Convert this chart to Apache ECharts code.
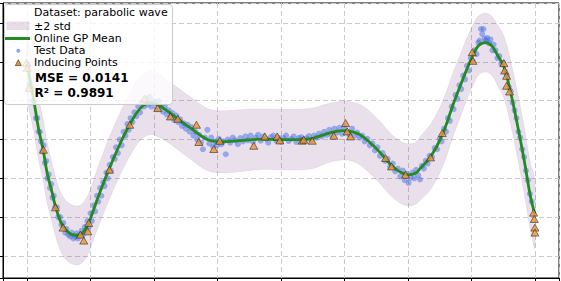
<!DOCTYPE html>
<html>
<head>
<meta charset="utf-8">
<script src="https://cdn.jsdelivr.net/npm/echarts@6/dist/echarts.min.js"></script>
<style>html,body{margin:0;padding:0;background:#fff}#c{width:561px;height:281px}</style>
</head>
<body>
<div id="c"></div>
<script>
// GP mean curve samples
const meanX = [0,0.05,0.104,0.183,0.252,0.315,0.394,0.446,0.525,0.604,0.709,0.813,0.892,0.971,1.103,1.286,1.47,1.628,1.786,1.943,2.054,2.18,2.37,2.57,2.84,3.05,3.36,3.68,4.0,4.3,4.5,4.78,4.98,5.13,5.25,5.41,5.57,5.73,5.88,6.0,6.12,6.2,6.36,6.54,6.72,6.88,7.02,7.11,7.22,7.32,7.41,7.51,7.62,7.72,7.83,7.93,8.0];
const meanY = [2.0,1.5,1.025,0.25,-0.26,-0.86,-1.37,-1.72,-2.11,-2.32,-2.45,-2.47,-2.37,-2.15,-1.55,-0.78,-0.09,0.42,0.81,0.95,0.90,0.77,0.54,0.30,0.0,-0.06,-0.03,0.01,0.0,0.0,0.03,0.18,0.23,0.20,0.12,-0.09,-0.35,-0.65,-0.84,-0.91,-0.87,-0.73,-0.44,0.12,0.94,1.62,2.16,2.42,2.50,2.42,2.18,1.88,1.20,0.42,-0.52,-1.47,-1.92];
const meanStd = [0.46,0.43,0.41,0.40,0.39,0.39,0.38,0.38,0.38,0.38,0.38,0.38,0.38,0.38,0.39,0.40,0.40,0.41,0.41,0.41,0.41,0.40,0.40,0.40,0.40,0.40,0.40,0.39,0.39,0.39,0.39,0.38,0.38,0.38,0.39,0.40,0.40,0.40,0.40,0.40,0.40,0.41,0.42,0.42,0.41,0.40,0.39,0.38,0.38,0.38,0.39,0.40,0.41,0.42,0.43,0.43,0.44];

// Test data points [x, y]
const testPoints = [
[0.02,1.9],[0.04,1.45],[0.07,1.35],[0.09,1.0],[0.12,1.0],[0.14,0.55],[0.16,0.55],[0.18,0.2],[0.2,0.2],[0.22,-0.05],[0.24,-0.3],[0.26,-0.15],[0.28,-0.6],[0.3,-0.55],[0.32,-1.0],[0.34,-0.9],[0.36,-1.25],[0.38,-1.15],[0.4,-1.5],[0.42,-1.45],[0.44,-1.75],[0.47,-1.75],[0.49,-2.0],[0.52,-2.0],[0.54,-2.2],[0.57,-2.15],[0.6,-2.4],[0.62,-2.3],[0.65,-2.45],[0.68,-2.5],[0.7,-2.4],[0.73,-2.55],[0.76,-2.5],[0.78,-2.42],[0.8,-2.55],[0.83,-2.45],[0.86,-2.35],[0.88,-2.45],[0.91,-2.25],[0.93,-2.35],[0.95,-2.1],[0.97,-2.25],
[1.0,-1.9],[1.02,-2.1],[1.05,-1.7],[1.07,-1.85],[1.1,-1.45],[1.12,-1.6],[1.15,-1.25],[1.17,-1.45],[1.2,-1.1],[1.22,-1.2],[1.25,-0.85],[1.27,-1.0],[1.3,-0.65],[1.32,-0.8],[1.35,-0.45],[1.38,-0.5],[1.4,-0.2],[1.43,-0.35],[1.46,0.0],[1.49,-0.15],[1.52,0.2],[1.55,0.1],[1.58,0.4],[1.6,0.25],[1.63,0.55],[1.66,0.45],[1.69,0.7],[1.72,0.6],[1.75,0.85],[1.78,0.7],
[1.81,0.95],[1.84,0.85],[1.87,1.05],[1.9,0.9],[1.93,1.1],[1.96,0.85],[1.99,1.0],[2.02,0.95],[2.05,0.8],[2.08,1.0],[2.11,0.85],[2.14,0.72],[2.17,0.85],[2.2,0.65],[2.23,0.75],[2.26,0.58],[2.29,0.68],[2.32,0.5],[2.35,0.62],[2.38,0.45],[2.41,0.52],[2.44,0.35],[2.47,0.42],[2.5,0.28],[2.53,0.38],[2.56,0.2],[2.59,0.32],[2.62,0.1],
[2.65,0.2],[2.68,0.0],[2.71,0.12],[2.74,-0.08],[2.77,-0.25],[2.8,0.05],[2.84,0.25],[2.87,-0.1],[2.9,0.05],[2.93,-0.18],[2.96,-0.05],[2.99,-0.15],[3.02,0.02],[3.06,-0.12],[3.09,-0.05],[3.13,-0.38],[3.16,0.0],
[3.2,-0.08],[3.24,0.05],[3.28,-0.02],[3.32,-0.12],[3.36,0.04],[3.4,-0.05],[3.44,0.08],[3.48,-0.02],[3.52,0.1],[3.56,-0.06],[3.6,0.05],[3.64,0.12],[3.68,-0.03],[3.72,0.08],[3.76,0.02],[3.8,-0.08],[3.84,0.06],[3.88,0.1],[3.92,-0.02],[3.96,0.05],[4.0,-0.06],[4.04,0.04],[4.08,0.1],[4.12,-0.04],[4.16,0.02],[4.2,0.08],[4.24,-0.06],[4.28,0.04],[4.32,0.06],[4.36,-0.04],[4.4,0.03],[4.44,0.09],[4.48,-0.02],
[4.52,0.1],[4.56,0.05],[4.6,0.15],[4.64,0.08],[4.68,0.2],[4.72,0.12],[4.76,0.25],[4.8,0.12],[4.84,0.28],[4.88,0.18],[4.92,0.3],[4.96,0.15],[5.0,0.32],[5.04,0.2],[5.08,0.12],[5.12,0.28],[5.16,0.1],[5.2,0.18],[5.24,0.05],
[5.28,0.1],[5.32,-0.05],[5.36,0.02],[5.4,-0.15],[5.44,-0.1],[5.48,-0.28],[5.52,-0.2],[5.56,-0.42],[5.6,-0.35],[5.64,-0.55],[5.68,-0.5],[5.72,-0.7],[5.76,-0.62],[5.8,-0.82],[5.84,-0.75],[5.88,-0.95],[5.92,-0.8],[5.95,-1.05],[5.98,-0.88],
[6.01,-1.12],[6.04,-0.98],[6.07,-0.85],[6.1,-1.0],[6.13,-0.78],[6.16,-0.92],[6.19,-1.03],[6.22,-0.68],[6.25,-0.75],[6.28,-0.55],[6.31,-0.62],[6.34,-0.42],[6.38,-0.45],[6.42,-0.22],[6.46,-0.25],[6.5,0.02],[6.53,-0.05],[6.57,0.28],[6.6,0.2],
[6.63,0.55],[6.66,0.48],[6.69,0.85],[6.72,0.78],[6.75,1.15],[6.78,1.05],[6.81,1.4],[6.84,1.3],[6.87,1.65],[6.9,1.55],[6.93,1.9],[6.96,1.78],[6.99,2.1],[7.02,2.02],[7.05,2.3],[7.08,2.2],
[7.11,2.5],[7.13,2.55],[7.15,2.85],[7.17,2.72],[7.19,2.85],[7.21,2.6],[7.23,2.55],[7.25,2.62],[7.28,2.48],[7.3,2.58],[7.33,2.3],[7.35,2.45],
[7.38,2.3],[7.41,2.1],[7.44,2.15],[7.47,1.95],[7.5,1.98],[7.53,1.75],[7.56,1.65],[7.59,1.35],[7.62,1.25],[7.65,0.95],[7.68,0.75],[7.71,0.55],[7.74,0.2],[7.77,0.05],[7.8,-0.25],[7.83,-0.45],[7.86,-0.8],[7.89,-1.05],[7.92,-1.4],[7.95,-1.6]
];

// Inducing points [x, y]
const inducingPoints = [
[-0.011,1.977],[0.0,1.849],[0.028,1.334],[0.257,-0.263],[0.446,-1.749],[0.567,-2.271],[0.84,-2.452],[0.892,-2.606],[0.955,-2.367],[0.971,-2.15],[1.297,-0.778],[1.617,0.381],[1.849,1.06],[2.058,0.811],[2.258,0.595],[2.374,0.536],[2.668,0.381],[2.705,-0.064],[2.941,-0.245],[3.035,-0.031],[3.571,-0.16],[3.745,0.08],[3.94,0.08],[3.981,-0.023],[4.334,-0.031],[4.359,-0.005],[4.492,-0.031],[4.832,0.098],[5.017,0.425],[5.043,0.209],[5.095,0.08],[5.647,-0.476],[5.741,-0.693],[5.962,-0.907],[6.356,-0.461],[6.541,0.167],[7.013,2.253],[7.023,2.029],[7.511,1.97],[7.523,1.78],[7.554,1.643],[7.554,1.386],[7.601,1.239],[7.98,-1.885],[7.991,-2.047],[8.0,-2.271],[8.0,-2.4]
];

const legendLabels = ['Dataset: parabolic wave', '\u00b12 std', 'Online GP Mean', 'Test Data', 'Inducing Points'];
const mseText = 'MSE = 0.0141';
const r2Text = 'R\u00b2 = 0.9891';

const bandColor = 'rgba(110,50,120,0.15)';
const dotColor = 'rgba(65,105,225,0.6)';
const meanData = meanX.map((x, i) => [x, meanY[i]]);

const chart = echarts.init(document.getElementById('c'), null, {renderer: 'svg'});
const FONT = '"DejaVu Sans", sans-serif';
const gridDash = {show: true, lineStyle: {color: '#cbcbcb', type: [5, 3], width: 1}};
const tick = {show: true, inside: false, length: 4, lineStyle: {color: '#000', width: 1}};

function renderBand(params, api) {
  if (params.dataIndex !== 0) return null;
  const upper = [], lower = [];
  for (let i = 0; i < meanX.length; i++) {
    upper.push(api.coord([meanX[i], meanY[i] + 2 * meanStd[i]]));
    lower.push(api.coord([meanX[i], meanY[i] - 2 * meanStd[i]]));
  }
  const pts = upper.concat(lower.reverse());
  return {
    type: 'polygon',
    shape: {points: pts, smooth: 0.35},
    style: {fill: bandColor, stroke: 'rgba(110,50,120,0.08)', lineWidth: 1}
  };
}

chart.setOption({
  animation: false,
  backgroundColor: '#fff',
  grid: {left: 3, right: 2, top: 3, bottom: 3, show: true, borderColor: '#000', borderWidth: 1, backgroundColor: '#fff'},
  xAxis: {type: 'value', min: -0.38, max: 8.38, splitNumber: 8,
    axisLabel: {show: false}, axisTick: tick, axisLine: {show: true, onZero: false, lineStyle: {color: '#000'}}, splitLine: gridDash},
  yAxis: {type: 'value', min: -3.57, max: 3.52, splitNumber: 7,
    axisLabel: {show: false}, axisTick: tick, axisLine: {show: true, onZero: false, lineStyle: {color: '#000'}}, splitLine: gridDash},
  series: [
    {type: 'custom', name: legendLabels[1], data: [[meanX[0], meanY[0]]], renderItem: renderBand, silent: true, z: 1, clip: true},
    {type: 'scatter', name: legendLabels[3], data: testPoints, symbolSize: 6,
      itemStyle: {color: dotColor}, z: 2},
    {type: 'line', name: legendLabels[2], data: meanData, smooth: 0.4, symbol: 'none',
      lineStyle: {color: '#228B22', width: 2.8}, z: 3},
    {type: 'scatter', name: legendLabels[4], data: inducingPoints, symbol: 'triangle', symbolSize: [8, 7],
      itemStyle: {color: '#EE9433', borderColor: '#222', borderWidth: 0.7}, z: 4}
  ],
  graphic: [
    {type: 'rect', z: 100, shape: {x: 4.5, y: 4.5, width: 168, height: 100, r: 3},
      style: {fill: 'rgba(255,255,255,0.8)', stroke: '#cccccc', lineWidth: 1}},
    {type: 'text', z: 101, x: 34, y: 12, style: {text: legendLabels[0], font: '11px ' + FONT, fill: '#000', verticalAlign: 'middle'}},
    {type: 'rect', z: 101, shape: {x: 6.5, y: 21.5, width: 23, height: 8.5}, style: {fill: 'rgba(110,50,120,0.17)'}},
    {type: 'text', z: 101, x: 34, y: 26, style: {text: legendLabels[1], font: '11px ' + FONT, fill: '#000', verticalAlign: 'middle'}},
    {type: 'line', z: 101, shape: {x1: 5, y1: 38.5, x2: 30, y2: 38.5}, style: {stroke: '#228B22', lineWidth: 3}},
    {type: 'text', z: 101, x: 34, y: 38, style: {text: legendLabels[2], font: '11px ' + FONT, fill: '#000', verticalAlign: 'middle'}},
    {type: 'circle', z: 101, shape: {cx: 18.3, cy: 50.7, r: 2}, style: {fill: dotColor}},
    {type: 'text', z: 101, x: 34, y: 50.3, style: {text: legendLabels[3], font: '11px ' + FONT, fill: '#000', verticalAlign: 'middle'}},
    {type: 'polygon', z: 101, shape: {points: [[18.3, 59.8], [21.3, 65.6], [15.3, 65.6]]}, style: {fill: '#EE9433', stroke: '#222', lineWidth: 0.6}},
    {type: 'text', z: 101, x: 34, y: 62.5, style: {text: legendLabels[4], font: '11px ' + FONT, fill: '#000', verticalAlign: 'middle'}},
    {type: 'text', z: 101, x: 35, y: 77.5, style: {text: mseText, font: 'bold 12px ' + FONT, fill: '#000', verticalAlign: 'middle'}},
    {type: 'text', z: 101, x: 34.5, y: 92.5, style: {text: r2Text, font: 'bold 12px ' + FONT, fill: '#000', verticalAlign: 'middle'}}
  ]
});
</script>
</body>
</html>
